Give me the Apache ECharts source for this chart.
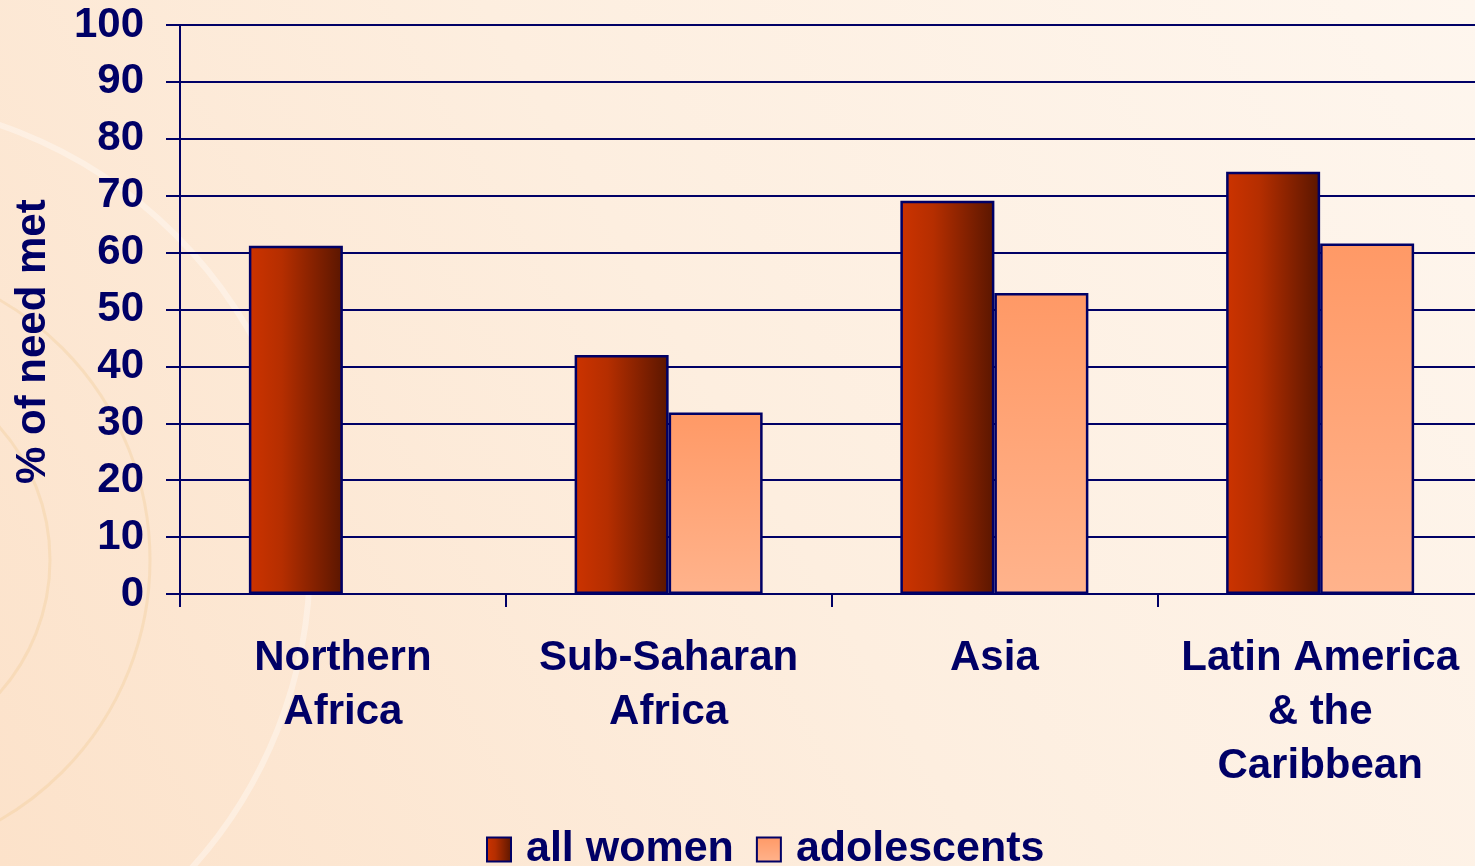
<!DOCTYPE html>
<html><head><meta charset="utf-8">
<script src="https://cdn.jsdelivr.net/npm/echarts@6/dist/echarts.min.js"></script>
<style>html,body{margin:0;padding:0;}#c{width:1475px;height:866px;}</style>
</head><body><div id="c"></div>
<script>
var categories = ['Northern\nAfrica', 'Sub-Saharan\nAfrica', 'Asia', 'Latin America\n& the\nCaribbean'];
var allWomen = [61.2, 42, 69.1, 74.2];
var adolescents = [null, 31.9, 52.9, 61.6];
var yTicks = [0, 10, 20, 30, 40, 50, 60, 70, 80, 90, 100];
var seriesNames = ['all women', 'adolescents'];

var navy = '#000066';
var font = 'Liberation Sans, Arial, sans-serif';
var darkGrad = new echarts.graphic.LinearGradient(0, 0, 1, 0, [
  {offset: 0, color: '#CC3300'}, {offset: 0.35, color: '#B52E00'}, {offset: 1, color: '#5A1600'}]);
var lightGrad = new echarts.graphic.LinearGradient(0, 0, 0, 1, [
  {offset: 0, color: '#FF9966'}, {offset: 1, color: '#FFB38C'}]);

var chart = echarts.init(document.getElementById('c'));
chart.setOption({
  backgroundColor: new echarts.graphic.LinearGradient(1, 0, 0, 1, [
    {offset: 0, color: '#FEF6EE'}, {offset: 0.5, color: '#FDEEDF'}, {offset: 1, color: '#FCE2CA'}]),
  animation: false,
  graphic: [
    {type: 'circle', silent: true, z: -10, shape: {cx: -150, cy: 560, r: 460}, style: {fill: 'rgba(0,0,0,0)', stroke: 'rgba(255,255,255,0.35)', lineWidth: 6}},
    {type: 'circle', silent: true, z: -10, shape: {cx: -150, cy: 560, r: 300}, style: {fill: 'rgba(0,0,0,0)', stroke: 'rgba(240,200,140,0.3)', lineWidth: 3}},
    {type: 'circle', silent: true, z: -10, shape: {cx: -150, cy: 560, r: 200}, style: {fill: 'rgba(0,0,0,0)', stroke: 'rgba(240,200,140,0.3)', lineWidth: 3}},
    {type: 'text', silent: true, rotation: Math.PI/2, x: 12, y: 484,
      style: {text: '% of need met', font: 'bold 42px ' + font, fill: navy}}
  ],
  legend: {
    data: seriesNames, left: 481, top: 823, padding: 5,
    icon: 'rect', itemWidth: 24, itemHeight: 24, itemGap: 22,
    textStyle: {fontSize: 43, fontWeight: 'bold', color: navy, fontFamily: font, padding: [0, 0, 0, 10]},
    itemStyle: {borderColor: navy, borderWidth: 2}
  },
  grid: {left: 180, top: 25, width: 1303, height: 569, containLabel: false, outerBoundsMode: 'none'},
  xAxis: {
    type: 'category', data: categories,
    axisLine: {lineStyle: {color: navy, width: 2}},
    axisTick: {show: true, length: 13, lineStyle: {color: navy, width: 2}},
    axisLabel: {fontSize: 42, fontWeight: 'bold', color: navy, fontFamily: font, lineHeight: 54, margin: 37, interval: 0}
  },
  yAxis: {
    type: 'value', min: 0, max: 100, interval: 10,
    axisLine: {show: true, lineStyle: {color: navy, width: 2}},
    axisTick: {show: true, length: 14, lineStyle: {color: navy, width: 2}},
    splitLine: {lineStyle: {color: navy, width: 2}},
    axisLabel: {fontSize: 42, fontWeight: 'bold', color: navy, fontFamily: font, margin: 36,
      formatter: function (v) { return yTicks.indexOf(v) >= 0 ? String(v) : ''; }}
  },
  series: [
    {name: seriesNames[0], type: 'bar', data: allWomen, barWidth: 94, barGap: '0%',
      itemStyle: {color: darkGrad, borderColor: navy, borderWidth: 2.5}},
    {name: seriesNames[1], type: 'bar', data: adolescents, barWidth: 94,
      itemStyle: {color: lightGrad, borderColor: navy, borderWidth: 2.5}}
  ]
});
</script></body></html>
